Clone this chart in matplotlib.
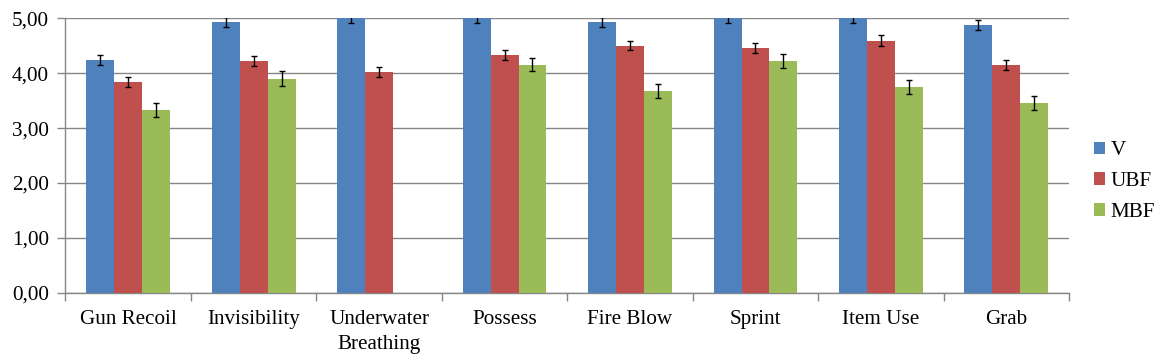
import numpy as np
import matplotlib
matplotlib.use('Agg')
import matplotlib.pyplot as plt
from matplotlib.ticker import FixedLocator, FuncFormatter

categories = ['Gun Recoil', 'Invisibility', 'Underwater\nBreathing', 'Possess',
              'Fire Blow', 'Sprint', 'Item Use', 'Grab']
series = ['V', 'UBF', 'MBF']

v_vals = [4.24, 4.93, 5.00, 5.00, 4.93, 5.00, 5.00, 4.88]
v_err = [0.09, 0.085, 0.09, 0.09, 0.085, 0.09, 0.09, 0.09]
ubf_vals = [3.84, 4.22, 4.02, 4.33, 4.50, 4.46, 4.59, 4.15]
ubf_err = [0.09, 0.09, 0.095, 0.09, 0.085, 0.09, 0.10, 0.095]
mbf_vals = [3.33, 3.90, np.nan, 4.15, 3.68, 4.22, 3.75, 3.46]
mbf_err = [0.13, 0.13, np.nan, 0.12, 0.13, 0.13, 0.13, 0.13]

colors = ['#4F81BD', '#C0504D', '#9BBB59']
grid_color = '#868686'

plt.rcParams['font.family'] = ['Liberation Serif', 'DejaVu Serif']

fig = plt.figure(figsize=(11.66, 3.63), dpi=100)
ax = fig.add_axes([0.056, 0.193, 0.861, 0.757])

x = np.arange(len(categories))
bar_w = 0.223
vals = [v_vals, ubf_vals, mbf_vals]
errs = [v_err, ubf_err, mbf_err]

for j, name in enumerate(series):
    ax.bar(x + (j - 1) * bar_w, vals[j], bar_w, color=colors[j], label=name,
           yerr=errs[j], capsize=2.3, error_kw=dict(elinewidth=1.0, capthick=1.0, ecolor='black'),
           zorder=3)

ax.set_xlim(-0.5, len(categories) - 0.5)
ax.set_ylim(0, 5)
ax.set_yticks(np.arange(0, 5.01, 1))
ax.yaxis.set_major_formatter(FuncFormatter(lambda v, p: f'{v:.2f}'.replace('.', ',')))
ax.yaxis.grid(True, color=grid_color, linewidth=1.0, zorder=0)
ax.set_axisbelow(True)

ax.set_xticks(x)
ax.set_xticklabels(categories, fontsize=15.2, linespacing=1.45)
ax.xaxis.set_minor_locator(FixedLocator(np.arange(-0.5, len(categories), 1)))
ax.tick_params(axis='x', which='major', length=0, pad=12)
ax.tick_params(axis='x', which='minor', length=6, color=grid_color, width=1.0)
ax.tick_params(axis='y', length=6, color=grid_color, width=1.0, labelsize=15.2, pad=6)

for side in ['top', 'right']:
    ax.spines[side].set_visible(False)
for side in ['left', 'bottom']:
    ax.spines[side].set_color(grid_color)
    ax.spines[side].set_linewidth(1.0)

ax.legend(loc='center left', bbox_to_anchor=(0.929, 0.5), bbox_transform=fig.transFigure,
          frameon=False, fontsize=15.2, handlelength=0.55, handleheight=0.55,
          handletextpad=0.25, labelspacing=0.55, borderpad=0)

fig.savefig('out.png', dpi=100)
